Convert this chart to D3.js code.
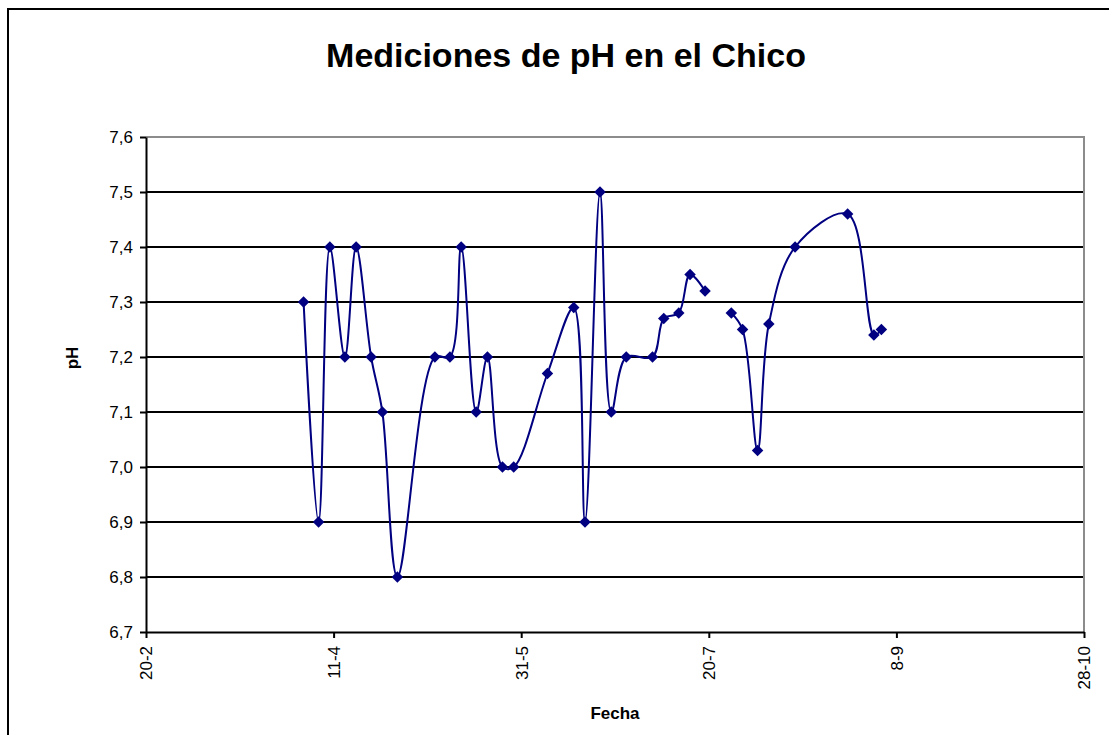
<!DOCTYPE html>
<html>
<head>
<meta charset="utf-8">
<script src="https://cdn.jsdelivr.net/npm/d3@7"></script>
<style>
  body { margin: 0; background: #fff; }
  svg { display: block; font-family: Arial, "Liberation Sans", sans-serif; }
</style>
</head>
<body>
<div id="chart"></div>
<script>
// fechas de medicion (dd-mm), null = sin dato (corta la linea)
const fechas = ['3-4','7-4','10-4','14-4','17-4','21-4','24-4','28-4','8-5','12-5','15-5','19-5','22-5','26-5','29-5',
  '7-6','14-6','17-6','21-6','24-6','28-6','5-7','8-7','12-7','15-7','19-7','22-7',
  '26-7','29-7','2-8','5-8','12-8','26-8','2-9','4-9'];
const valoresPH = [7.30,6.90,7.40,7.20,7.40,7.20,7.10,6.80,7.20,7.20,7.40,7.10,7.20,7.00,7.00,
  7.17,7.29,6.90,7.50,7.10,7.20,7.20,7.27,7.28,7.35,7.32,null,
  7.28,7.25,7.03,7.26,7.40,7.46,7.24,7.25];
const ticksFecha = ['20-2','11-4','31-5','20-7','8-9','28-10'];
const ticksPH = [6.7,6.8,6.9,7.0,7.1,7.2,7.3,7.4,7.5,7.6];

(function(){
  const W = 1109, H = 735;
  const margin = {left: 146, right: 25, top: 137, bottom: 103};
  const year = 2007;
  const parse = s => d3.timeParse('%d-%m-%Y')(s + '-' + year);
  const data = fechas.map((f,i) => ({fecha: parse(f), ph: valoresPH[i]}));

  const svg = d3.select('#chart').append('svg').attr('width', W).attr('height', H);
  svg.append('rect').attr('width', W).attr('height', H).attr('fill', '#fff');
  // marco del grafico
  svg.append('rect').attr('x', 8).attr('y', 9).attr('width', 1200).attr('height', 900)
    .attr('fill', 'none').attr('stroke', '#000').attr('stroke-width', 2);

  const x = d3.scaleTime().domain([parse(ticksFecha[0]), parse(ticksFecha[ticksFecha.length-1])])
    .range([margin.left, W - margin.right]);
  const y = d3.scaleLinear().domain([6.7, 7.6]).range([H - margin.bottom, margin.top]);

  // titulo
  svg.append('text').attr('x', 566).attr('y', 67).attr('text-anchor', 'middle')
    .style('font-size', '34px').style('font-weight', 'bold').text('Mediciones de pH en el Chico');

  // lineas de division
  svg.append('g').selectAll('line').data(ticksPH.slice(1, -1)).join('line')
    .attr('x1', x.range()[0]).attr('x2', x.range()[1])
    .attr('y1', d => y(d)).attr('y2', d => y(d))
    .attr('stroke', '#000').attr('stroke-width', 2);

  // borde del area de trazado (gris arriba y derecha)
  svg.append('path')
    .attr('d', `M${x.range()[0]},${y(7.6)}H${x.range()[1]}V${y(6.7)}`)
    .attr('fill', 'none').attr('stroke', '#8c8c8c').attr('stroke-width', 2);

  // ejes
  const yAxis = svg.append('g').attr('transform', `translate(${margin.left},0)`)
    .call(d3.axisLeft(y).tickValues(ticksPH).tickFormat(d => d3.format('.1f')(d).replace('.', ',')).tickSize(6).tickSizeOuter(0));
  const xAxis = svg.append('g').attr('transform', `translate(0,${y(6.7)})`)
    .call(d3.axisBottom(x).tickValues(ticksFecha.map(parse)).tickFormat(d3.timeFormat('%-d-%-m')).tickSize(6).tickSizeOuter(0));
  [xAxis, yAxis].forEach(a => {
    a.select('.domain').attr('stroke', '#000').attr('stroke-width', 2);
    a.selectAll('.tick line').attr('stroke', '#000').attr('stroke-width', 2);
    a.selectAll('.tick text').style('font-size', '17px').style('font-family', 'Arial, "Liberation Sans", sans-serif').attr('fill', '#000');
  });
  yAxis.selectAll('.tick text').attr('x', -13);
  xAxis.selectAll('.tick text')
    .attr('transform', 'rotate(-90)').attr('text-anchor', 'end')
    .attr('x', -14).attr('y', 0).attr('dy', '0.35em');

  // titulos de ejes
  svg.append('text').attr('x', (x.range()[0] + x.range()[1]) / 2).attr('y', 719).attr('text-anchor', 'middle')
    .style('font-size', '17px').style('font-weight', 'bold').text('Fecha');
  svg.append('text').attr('transform', 'translate(78,358) rotate(-90)').attr('text-anchor', 'middle')
    .style('font-size', '17px').style('font-weight', 'bold').text('pH');

  // serie suavizada
  const line = d3.line().defined(d => d.ph !== null)
    .x(d => x(d.fecha)).y(d => y(d.ph)).curve(d3.curveCatmullRom.alpha(0.5));
  svg.append('path').datum(data).attr('d', line)
    .attr('fill', 'none').attr('stroke', '#000080').attr('stroke-width', 2);

  // marcadores rombo
  const rombo = { draw(ctx, size){ const r = Math.sqrt(size) / 2; ctx.moveTo(0,-r); ctx.lineTo(r,0); ctx.lineTo(0,r); ctx.lineTo(-r,0); ctx.closePath(); } };
  svg.append('g').selectAll('path').data(data.filter(d => d.ph !== null)).join('path')
    .attr('transform', d => `translate(${x(d.fecha)},${y(d.ph)})`)
    .attr('d', d3.symbol().type(rombo).size(132))
    .attr('fill', '#000080');
})();
</script>
</body>
</html>
